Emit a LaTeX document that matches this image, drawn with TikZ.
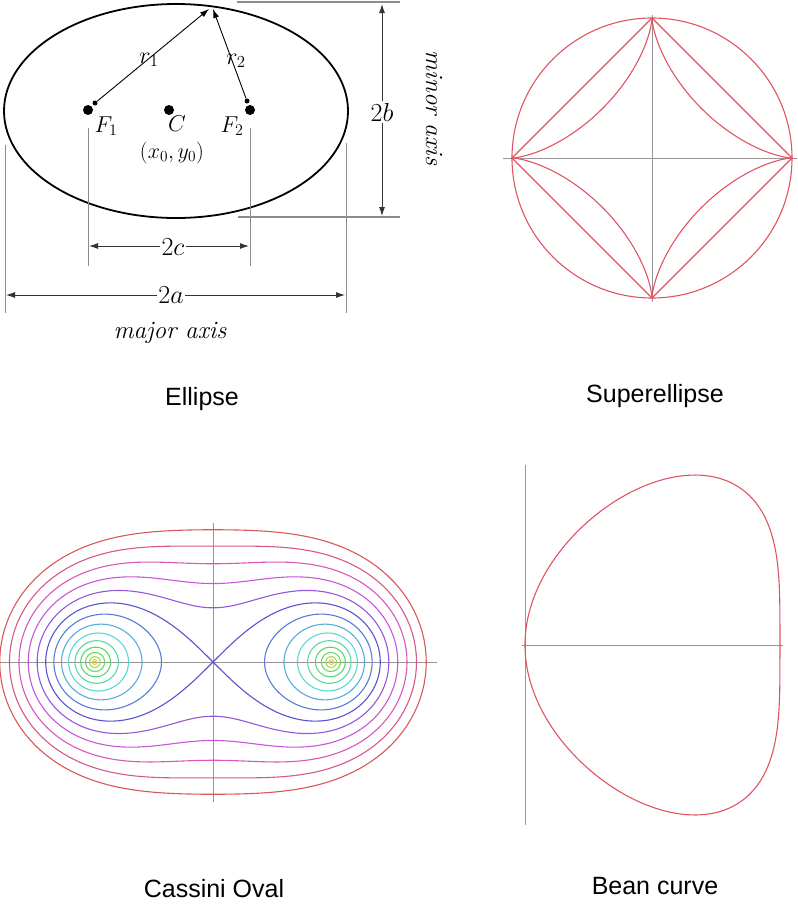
\RequirePackage{fix-cm}
\documentclass[tikz,border=0pt]{standalone}
\usepackage{fontspec}
\newfontfamily\labfont{Liberation Sans}
\usetikzlibrary{arrows.meta}
\definecolor{sred}{RGB}{224,84,98}
\definecolor{axgray}{RGB}{150,150,150}
\definecolor{dimgray}{RGB}{140,140,140}
\begin{document}
\begin{tikzpicture}[x=1pt,y=-1pt,
  caption/.style={font=\labfont\fontsize{25}{30}\selectfont, inner sep=0pt},
  mlab/.style={font=\fontsize{22}{26}\selectfont, inner sep=0pt},
  dlab/.style={font=\fontsize{26}{30}\selectfont, fill=white, inner sep=1.5pt},
  itlab/.style={font=\fontsize{25}{30}\selectfont\itshape, inner sep=0pt},
  bigdot/.style={circle, fill=black, inner sep=0pt, minimum size=10pt},
  smalldot/.style={circle, fill=black, inner sep=0pt, minimum size=5pt},
  radarrow/.style={draw=black, line width=0.9pt, -{Latex[length=9pt,width=6pt]}},
  dimarrow/.style={draw=black!80, line width=0.9pt, {Latex[length=9pt,width=6pt]}-{Latex[length=9pt,width=6pt]}},
  extline/.style={draw=dimgray, line width=0.9pt},
  refline/.style={draw=dimgray, line width=1.6pt},
  axisline/.style={draw=axgray, line width=0.8pt},
  curve/.style={draw=sred, line width=1.1pt},
]
\useasboundingbox (0,0) rectangle (798,911);

% ===================== Ellipse =====================
\draw[line width=1.8pt] (176,111) ellipse [x radius=172, y radius=107];
\node[bigdot] (F1) at (88,110) {};
\node[bigdot] (C) at (169,110) {};
\node[bigdot] (F2) at (250,110) {};
\node[smalldot] (f1s) at (95,103) {};
\node[smalldot] (f2s) at (247,101) {};
\coordinate (P1) at (209,9);
\coordinate (P2) at (213,9);
\draw[radarrow] (f1s) -- (P1);
\draw[radarrow] (f2s) -- (P2);
\node[mlab, font=\fontsize{24}{28}\selectfont] (lr1) at (149,60) {$r_1$};
\node[mlab, font=\fontsize{24}{28}\selectfont] (lr2) at (236,61) {$r_2$};
\node[mlab, font=\fontsize{23}{28}\selectfont] (lF1) at (106,126) {$F_1$};
\node[mlab, font=\fontsize{23}{28}\selectfont] (lF2) at (232,126) {$F_2$};
\node[mlab, font=\fontsize{23}{28}\selectfont] (lC) at (177,124) {$C$};
\node[mlab] (lxy) at (172,153) {$(x_0, y_0)$};

% reference lines
\coordinate (tl) at (237,2);  \coordinate (tr) at (400,2);
\coordinate (bl) at (238,217); \coordinate (br) at (400,217);
\draw[refline] (tl) -- (tr);
\draw[refline] (bl) -- (br);
\coordinate (e1t) at (88,128);  \coordinate (e1b) at (88,266);
\coordinate (e2t) at (250,128); \coordinate (e2b) at (250,266);
\coordinate (e3t) at (5,145);   \coordinate (e3b) at (5,313);
\coordinate (e4t) at (346,143); \coordinate (e4b) at (346,313);
\draw[extline] (e1t) -- (e1b);
\draw[extline] (e2t) -- (e2b);
\draw[extline] (e3t) -- (e3b);
\draw[extline] (e4t) -- (e4b);
% dimension arrows
\coordinate (c2L) at (89,246);  \coordinate (c2R) at (249,246);
\coordinate (a2L) at (6,295);   \coordinate (a2R) at (345,295);
\coordinate (b2T) at (382,4);   \coordinate (b2B) at (382,216);
\draw[dimarrow] (c2L) -- (c2R);
\draw[dimarrow] (a2L) -- (a2R);
\draw[dimarrow] (b2T) -- (b2B);
\node[dlab] (l2c) at (173,247) {$2c$};
\node[dlab] (l2a) at (171,295) {$2a$};
\node[dlab] (l2b) at (382,112) {$2b$};
\node[itlab] (lmaj) at (170,333) {major axis};
\node[itlab, rotate=-90] (lmin) at (434,108) {minor axis};
\node[caption] (tEll) at (202,399) {Ellipse};

% ===================== Superellipse =====================
\begin{scope}[shift={(652,158)}]
  \draw[axisline] (-149,0) -- (145,0);
  \draw[axisline] (0,-143) -- (0,144);
\end{scope}
\begin{scope}[shift={(652,158)}, x=140pt, y=-140pt]
  \draw[curve] (0,0) circle [radius=1];
  \draw[curve] (1,0) -- (0,1) -- (-1,0) -- (0,-1) -- cycle;
  \draw[curve] plot[domain=0:360, samples=240, variable=\t]
    ({cos(\t)*cos(\t)*cos(\t)}, {sin(\t)*sin(\t)*sin(\t)}) -- cycle;
\end{scope}
\node[caption] (tSup) at (655,396) {Superellipse};

% ===================== Cassini oval =====================
\begin{scope}[shift={(213,662)}]
  \draw[axisline] (-213,0) -- (224,0);
  \draw[axisline] (0,-139) -- (0,140);
\end{scope}
\begin{scope}[shift={(213,662)}, x=118.3pt, y=-118.3pt]
  \foreach \i in {1,...,9} {
    \pgfmathsetmacro\K{(\i/10)*(\i/10)}
    \pgfmathsetmacro\hue{(40+(\i-1)*22.857)/360}
    \definecolor{cc}{hsb}{\hue,0.6,0.85}
    \draw[cc, line width=1.1pt] plot[domain=0:360, samples=120, variable=\s]
      ({ sqrt(sqrt(1-(\K*sin(\s))^2)+\K*cos(\s)) * cos(0.5*asin(\K*sin(\s))) },
       { sqrt(sqrt(1-(\K*sin(\s))^2)+\K*cos(\s)) * sin(0.5*asin(\K*sin(\s))) }) -- cycle;
    \draw[cc, line width=1.1pt] plot[domain=0:360, samples=120, variable=\s]
      ({ -sqrt(sqrt(1-(\K*sin(\s))^2)+\K*cos(\s)) * cos(0.5*asin(\K*sin(\s))) },
       { sqrt(sqrt(1-(\K*sin(\s))^2)+\K*cos(\s)) * sin(0.5*asin(\K*sin(\s))) }) -- cycle;
  }
  \pgfmathsetmacro\hue{(40+9*22.857)/360}
  \definecolor{cc}{hsb}{\hue,0.6,0.8}
  \draw[cc, line width=1.1pt] plot[domain=0:360, samples=240, variable=\t]
    ({1.41421*cos(\t)/(1+sin(\t)^2)}, {1.41421*sin(\t)*cos(\t)/(1+sin(\t)^2)}) -- cycle;
  \foreach \i in {11,...,15} {
    \pgfmathsetmacro\B{(\i/10)^4}
    \pgfmathsetmacro\hue{mod(40+(\i-1)*22.857,360)/360}
    \definecolor{cc}{hsb}{\hue,0.6,0.85}
    \draw[cc, line width=1.1pt] plot[domain=0:360, samples=180, variable=\t]
      ({ sqrt(cos(2*\t)+sqrt(\B-sin(2*\t)^2))*cos(\t) },
       { sqrt(cos(2*\t)+sqrt(\B-sin(2*\t)^2))*sin(\t) }) -- cycle;
  }
\end{scope}
\node[caption] (tCas) at (214,889) {Cassini Oval};

% ===================== Bean curve =====================
\begin{scope}[shift={(525,645)}]
  \draw[axisline] (0,-180) -- (0,180);
  \draw[axisline] (-3,0) -- (258,0);
\end{scope}
\begin{scope}[shift={(525,645)}, x=255pt, y=-255pt]
  \draw[curve] plot[domain=-90:90, samples=240, variable=\t]
    ({cos(\t)*cos(\t)/(1-(cos(\t)*sin(\t))^2)}, {cos(\t)*sin(\t)/(1-(cos(\t)*sin(\t))^2)}) -- cycle;
\end{scope}
\node[caption] (tBean) at (655,886) {Bean curve};
\end{tikzpicture}
\end{document}
